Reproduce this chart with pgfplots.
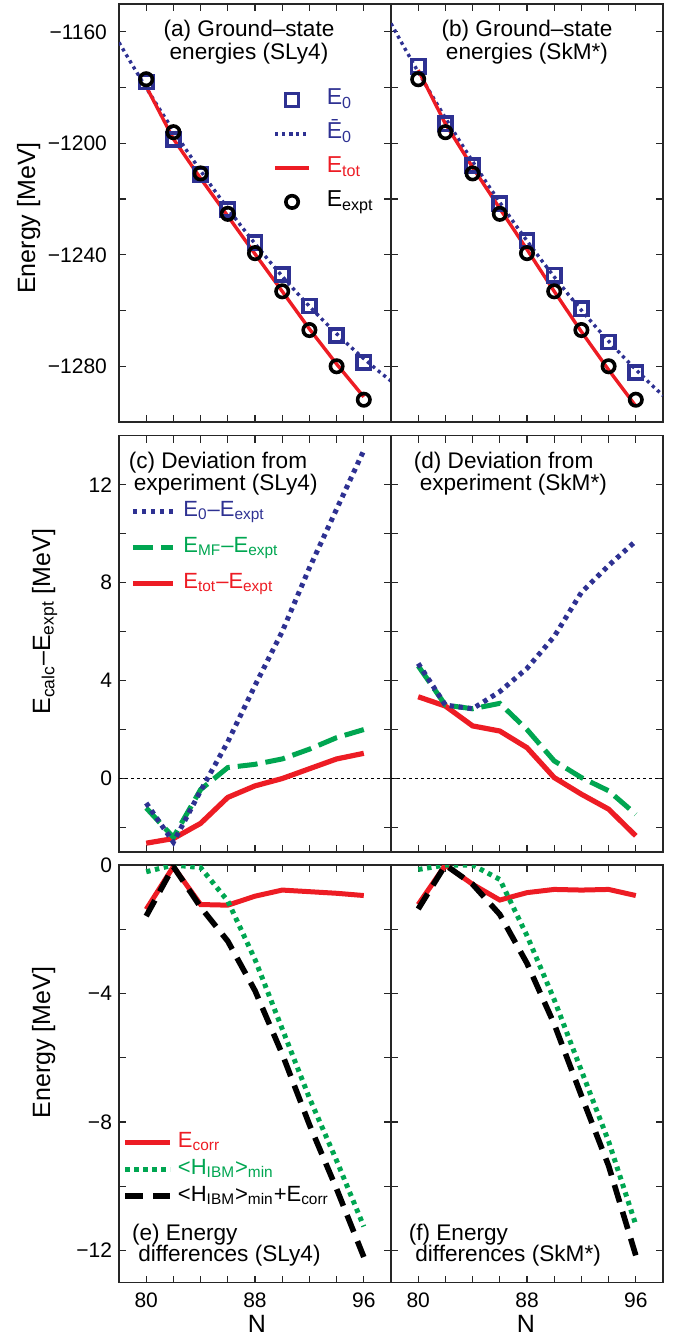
\documentclass[border=0pt]{standalone}
\usepackage{pgfplots}
\usepackage{pgfplotstable}
\pgfplotsset{compat=1.18}
\usepackage{fontspec}
\setmainfont{Liberation Sans}
\definecolor{myblue}{RGB}{46,49,146}
\definecolor{myred}{RGB}{237,28,36}
\definecolor{mygreen}{RGB}{0,166,81}

\pgfplotstableread{
N Eexpt E0S EtotS E0K EtotK
80 -1177.0 -1178.0 -1179.6 -1172.3 -1173.7
82 -1196.0 -1198.6 -1198.4 -1193.0 -1193.0
84 -1210.8 -1211.3 -1212.6 -1208.0 -1208.6
86 -1225.3 -1223.8 -1226.1 -1221.7 -1223.4
88 -1239.4 -1235.6 -1239.7 -1234.9 -1238.1
90 -1253.1 -1247.1 -1253.1 -1247.3 -1253.1
92 -1267.0 -1258.4 -1266.6 -1259.4 -1267.6
94 -1280.0 -1269.0 -1279.2 -1271.3 -1281.3
96 -1292.0 -1278.6 -1291.0 -1282.3 -1294.3
}\tabA

\pgfplotstableread{
N barS barK
78 -1163.80 -1157.00
79 -1172.05 -1165.81
80 -1180.07 -1174.40
81 -1187.86 -1182.76
82 -1195.43 -1190.90
83 -1202.76 -1198.81
84 -1209.87 -1206.50
85 -1216.74 -1213.96
86 -1223.39 -1221.20
87 -1229.81 -1228.21
88 -1236.00 -1235.00
89 -1241.96 -1241.56
90 -1247.69 -1247.90
91 -1253.19 -1254.01
92 -1258.47 -1259.90
93 -1263.51 -1265.56
94 -1268.33 -1271.00
95 -1272.92 -1276.21
96 -1277.27 -1281.20
97 -1281.40 -1285.96
98 -1285.30 -1290.50
}\tabBar

\pgfplotstableread{
N dE0S dMFS dTotS dE0K dMFK dTotK
80 -1.0 -1.2 -2.64 4.7 4.6 3.34
82 -2.6 -2.4 -2.45 3.0 3.0 2.96
84 -0.5 -0.45 -1.83 2.85 2.85 2.15
86 1.5 0.45 -0.77 3.55 3.07 1.94
88 3.8 0.58 -0.3 4.5 2.0 1.26
90 6.0 0.8 0.0 5.8 0.72 0.04
92 8.6 1.2 0.4 7.6 0.04 -0.64
94 11.0 1.67 0.8 8.7 -0.5 -1.25
96 13.4 2.0 1.03 9.7 -1.46 -2.34
}\tabC

\pgfplotstableread{
N corrS ibmS sumS corrK ibmK sumK
80 -1.38 -0.21 -1.59 -1.23 -0.14 -1.37
82 -0.05 0.0 -0.05 0.0 0.0 0.0
84 -1.23 -0.08 -1.31 -0.6 0.0 -0.6
86 -1.25 -1.12 -2.37 -1.09 -0.45 -1.54
88 -0.97 -2.94 -3.91 -0.86 -2.2 -3.06
90 -0.78 -5.1 -5.88 -0.76 -4.19 -4.95
92 -0.83 -7.25 -8.08 -0.78 -6.4 -7.18
94 -0.88 -9.2 -10.08 -0.76 -8.6 -9.36
96 -0.95 -11.25 -12.2 -0.95 -11.2 -12.15
}\tabE

\pgfplotsset{
  panel/.style={
    scale only axis, width=136pt,
    xmin=78, xmax=98,
    xtick={80,82,...,96},
    xticklabels={},
    tick align=inside,
    major tick length=3.5pt,
    axis line style={black!85, line width=0.6pt},
    tick style={black!85, line width=0.6pt},
    tick label style={font=\fontsize{10.5}{12}\selectfont},
    anchor=north west,
    legend cell align=left,
  },
  redA/.style={myred, line width=1.7pt},
  blueA/.style={myblue, line width=1.7pt, dash pattern=on 1.6pt off 1.9pt},
  sqA/.style={myblue, only marks, mark=square, mark size=3.3pt, line width=1.8pt},
  ciA/.style={black, only marks, mark=o, mark size=3.1pt, line width=1.8pt},
  blueC/.style={myblue, line width=2.5pt, dash pattern=on 2.2pt off 2.3pt},
  greenC/.style={mygreen, line width=2.5pt, dash pattern=on 10pt off 4pt},
  redC/.style={myred, line width=2.6pt},
  zeroC/.style={black, line width=0.5pt, dash pattern=on 1.5pt off 1.5pt},
  redE/.style={myred, line width=2.5pt},
  greenE/.style={mygreen, line width=2.5pt, dash pattern=on 2.2pt off 2.3pt},
  blackE/.style={black, line width=2.8pt, dash pattern=on 9pt off 5pt},
}

\begin{document}
\begin{tikzpicture}
\useasboundingbox (0,0) rectangle (341.5pt,-669pt);

% (a)
\begin{axis}[panel, at={(59.5pt,-2pt)}, height=209pt,
  ymin=-1300, ymax=-1150,
  ytick={-1280,-1260,...,-1160},
  yticklabels={−1280,,−1240,,−1200,,−1160},
  yticklabel style={xshift=-2.5pt},
  legend image code/.code={\draw[mark repeat=2,mark phase=2,#1] plot coordinates {(0pt,0pt) (8.5pt,0pt) (17pt,0pt)};},
  legend style={at={(rel axis cs:0.566,0.805)}, anchor=north west, draw=none, fill=none,
    inner sep=0pt, row sep=3pt, column sep=7pt, font=\fontsize{11.5}{13}\selectfont,
    nodes={inner sep=1pt, text height=8.5pt, text depth=3.5pt}},
]
\addplot[sqA] table[x=N, y=E0S] {\tabA};
\addlegendentry{\textcolor{myblue}{E\textsubscript{0}}}
\addplot[blueA] table[x=N, y=barS] {\tabBar};
\addlegendentry{\textcolor{myblue}{Ē\textsubscript{0}}}
\addplot[redA] table[x=N, y=EtotS] {\tabA};
\addlegendentry{\textcolor{myred}{E\textsubscript{tot}}}
\addplot[ciA] table[x=N, y=Eexpt] {\tabA};
\addlegendentry{E\textsubscript{expt}}
\end{axis}

% (b)
\begin{axis}[panel, at={(195.5pt,-2pt)}, height=209pt,
  ymin=-1300, ymax=-1150,
  ytick={-1280,-1260,...,-1160},
  yticklabels={},
]
\addplot[sqA] table[x=N, y=E0K] {\tabA};
\addplot[blueA] table[x=N, y=barK] {\tabBar};
\addplot[redA] table[x=N, y=EtotK] {\tabA};
\addplot[ciA] table[x=N, y=Eexpt] {\tabA};
\end{axis}

% (c)
\begin{axis}[panel, at={(59.5pt,-217.85pt)}, height=208.15pt,
  ymin=-3, ymax=14,
  ytick={-2,0,...,12},
  yticklabels={,0,,4,,8,,12},
  legend image code/.code={\draw[#1] (0pt,0pt) -- (20pt,0pt);},
  legend style={at={(rel axis cs:0.040,0.853)}, anchor=north west, draw=none, fill=none,
    inner sep=0pt, row sep=4pt, column sep=3pt, font=\fontsize{11}{13}\selectfont,
    nodes={inner sep=1pt, text height=8.5pt, text depth=3.5pt}},
]
\addlegendimage{blueC}
\addlegendentry{\textcolor{myblue}{E\textsubscript{0}–E\textsubscript{expt}}}
\addlegendimage{greenC}
\addlegendentry{\textcolor{mygreen}{E\textsubscript{MF}–E\textsubscript{expt}}}
\addlegendimage{redC}
\addlegendentry{\textcolor{myred}{E\textsubscript{tot}–E\textsubscript{expt}}}
\addplot[zeroC, forget plot] coordinates {(78,0) (98,0)};
\addplot[redC, forget plot] table[x=N, y=dTotS] {\tabC};
\addplot[greenC, forget plot] table[x=N, y=dMFS] {\tabC};
\addplot[blueC, forget plot] table[x=N, y=dE0S] {\tabC};
\end{axis}

% (d)
\begin{axis}[panel, at={(195.5pt,-217.85pt)}, height=208.15pt,
  ymin=-3, ymax=14,
  ytick={-2,0,...,12},
  yticklabels={},
]
\addplot[zeroC] coordinates {(78,0) (98,0)};
\addplot[redC] table[x=N, y=dTotK] {\tabC};
\addplot[greenC] table[x=N, y=dMFK] {\tabC};
\addplot[blueC] table[x=N, y=dE0K] {\tabC};
\end{axis}

% (e)
\begin{axis}[panel, at={(59.5pt,-432.5pt)}, height=208.85pt,
  ymin=-13, ymax=0,
  ytick={-12,-10,...,0},
  yticklabels={−12,,−8,,−4,,0},
  xticklabels={80,,,,88,,,,96},
  xticklabel style={yshift=-1.7pt},
  legend image code/.code={\draw[#1] (0pt,0pt) -- (22.5pt,0pt);},
  legend style={at={(rel axis cs:0.011,0.366)}, anchor=north west, draw=none, fill=none,
    inner sep=0pt, row sep=1.5pt, column sep=2pt, font=\fontsize{11}{13}\selectfont,
    nodes={inner sep=0.5pt, text height=8pt, text depth=3pt}},
]
\addplot[redE] table[x=N, y=corrS] {\tabE};
\addlegendentry{\textcolor{myred}{E\textsubscript{corr}}}
\addplot[greenE] table[x=N, y=ibmS] {\tabE};
\addlegendentry{\textcolor{mygreen}{<H\textsubscript{IBM}>\textsubscript{min}}}
\addplot[blackE] table[x=N, y=sumS] {\tabE};
\addlegendentry{<H\textsubscript{IBM}>\textsubscript{min}+E\textsubscript{corr}}
\end{axis}

% (f)
\begin{axis}[panel, at={(195.5pt,-432.5pt)}, height=208.85pt,
  ymin=-13, ymax=0,
  ytick={-12,-10,...,0},
  yticklabels={},
  xticklabels={80,,,,88,,,,96},
  xticklabel style={yshift=-1.7pt},
]
\addplot[redE] table[x=N, y=corrK] {\tabE};
\addplot[greenE] table[x=N, y=ibmK] {\tabE};
\addplot[blackE] table[x=N, y=sumK] {\tabE};
\end{axis}

% panel titles
\begin{scope}[every node/.style={inner sep=0pt, font=\fontsize{11.3}{13}\selectfont}]
\node[anchor=base] at (124.5pt,-18.35pt) {(a) Ground–state};
\node[anchor=base] at (124.5pt,-30pt) {energies (SLy4)};
\node[anchor=base] at (263.5pt,-18.35pt) {(b) Ground–state};
\node[anchor=base] at (263.5pt,-30pt) {energies (SkM*)};
\node[anchor=base west] at (64.2pt,-234.15pt) {(c) Deviation from};
\node[anchor=base west] at (66.7pt,-245pt) {experiment (SLy4)};
\node[anchor=base west] at (206.7pt,-234.15pt) {(d) Deviation from};
\node[anchor=base west] at (209.7pt,-245pt) {experiment (SkM*)};
\node[anchor=base west] at (65.8pt,-620pt) {(e) Energy};
\node[anchor=base west] at (69pt,-630.85pt) {differences (SLy4)};
\node[anchor=base west] at (204.2pt,-620pt) {(f) Energy};
\node[anchor=base west] at (207.5pt,-630.85pt) {differences (SkM*)};
\end{scope}

% axis labels
\begin{scope}[every node/.style={inner sep=0pt, font=\fontsize{12.5}{14}\selectfont}]
\node[rotate=90, anchor=base] at (17.5pt,-109pt) {Energy [MeV]};
\node[rotate=90, anchor=base] at (25pt,-310.85pt) {E\textsubscript{calc}–E\textsubscript{expt} [MeV]};
\node[rotate=90, anchor=base] at (25pt,-521.25pt) {Energy [MeV]};
\node[anchor=base] at (128.5pt,-666.3pt) {N};
\node[anchor=base] at (263pt,-666.3pt) {N};
\end{scope}
\end{tikzpicture}
\end{document}
